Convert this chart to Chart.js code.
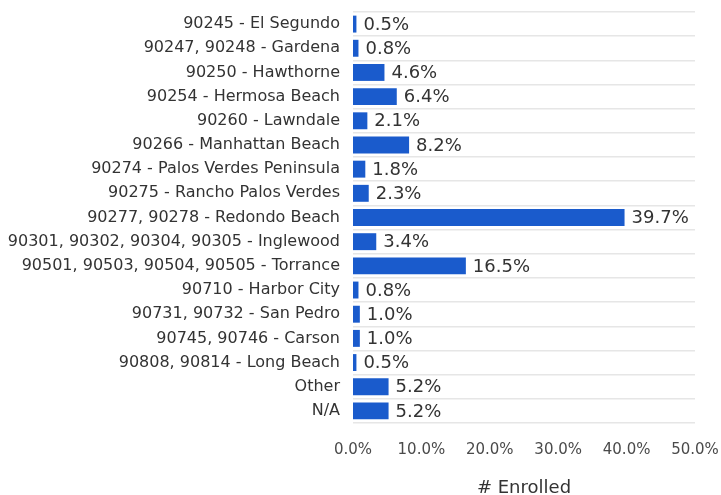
<!DOCTYPE html>
<html>
<head>
<meta charset="utf-8">
<script src="https://cdn.jsdelivr.net/npm/chart.js@4.4.1/dist/chart.umd.min.js"></script>
<style>
  html, body { margin: 0; padding: 0; background: #fff; }
  #wrap { width: 721px; height: 495px; position: relative; }
</style>
</head>
<body>
<div id="wrap"><canvas id="zipChart"></canvas></div>
<script>
const zipLabels = [
    '90245 - El Segundo',
    '90247, 90248 - Gardena',
    '90250 - Hawthorne',
    '90254 - Hermosa Beach',
    '90260 - Lawndale',
    '90266 - Manhattan Beach',
    '90274 - Palos Verdes Peninsula',
    '90275 - Rancho Palos Verdes',
    '90277, 90278 - Redondo Beach',
    '90301, 90302, 90304, 90305 - Inglewood',
    '90501, 90503, 90504, 90505 - Torrance',
    '90710 - Harbor City',
    '90731, 90732 - San Pedro',
    '90745, 90746 - Carson',
    '90808, 90814 - Long Beach',
    'Other',
    'N/A'
];
const enrolledPct = [0.5, 0.8, 4.6, 6.4, 2.1, 8.2, 1.8, 2.3, 39.7, 3.4, 16.5, 0.8, 1.0, 1.0, 0.5, 5.2, 5.2];
const xTicks = [0, 10, 20, 30, 40, 50];
const axisTitle = '# Enrolled';

const FONT = "'DejaVu Sans', 'Liberation Sans', Arial, sans-serif";
Chart.defaults.font.family = FONT;
Chart.defaults.color = '#444';

// draws the percentage next to each bar
const valueLabels = {
    id: 'valueLabels',
    afterDatasetsDraw(chart) {
        const ctx = chart.ctx;
        const meta = chart.getDatasetMeta(0);
        ctx.save();
        ctx.font = '18px ' + FONT;
        ctx.fillStyle = '#333';
        ctx.textBaseline = 'middle';
        ctx.textAlign = 'left';
        meta.data.forEach((bar, i) => {
            ctx.fillText(enrolledPct[i].toFixed(1) + '%', bar.x + 7, bar.y + 1);
        });
        ctx.restore();
    }
};

new Chart(document.getElementById('zipChart').getContext('2d'), {
    type: 'bar',
    data: {
        labels: zipLabels,
        datasets: [{
            data: enrolledPct,
            backgroundColor: '#1a5bcc',
            borderWidth: 0,
            barPercentage: 0.7,
            categoryPercentage: 1.0
        }]
    },
    options: {
        indexAxis: 'y',
        responsive: true,
        maintainAspectRatio: false,
        animation: false,
        layout: { padding: { top: 12, right: 26, left: 0, bottom: 0 } },
        plugins: {
            legend: { display: false },
            tooltip: { enabled: false }
        },
        scales: {
            x: {
                min: 0,
                max: 50,
                afterBuildTicks: (scale) => { scale.ticks = xTicks.map(v => ({ value: v })); },
                afterFit: (scale) => {
                    scale.height = 72;
                    scale.paddingLeft = 0;
                    scale.paddingRight = 0;
                },
                grid: { display: false },
                border: { display: false },
                ticks: {
                    color: '#4a4a4a',
                    font: { size: 15 },
                    padding: 10,
                    maxRotation: 0,
                    callback: (v) => Number(v).toFixed(1) + '%'
                },
                title: {
                    display: true,
                    text: axisTitle,
                    color: '#333',
                    font: { size: 18, lineHeight: 1 },
                    padding: { top: 24, bottom: -2 }
                }
            },
            y: {
                afterFit: (scale) => {
                    scale.width = 353;
                    scale.paddingTop = 0;
                    scale.paddingBottom = 0;
                },
                grid: { color: '#e6e6e6', lineWidth: 1.5, offset: true, drawTicks: false },
                border: { display: false },
                ticks: {
                    color: '#333',
                    font: { size: 16 },
                    padding: 13,
                    autoSkip: false
                }
            }
        }
    },
    plugins: [valueLabels]
});
</script>
</body>
</html>
